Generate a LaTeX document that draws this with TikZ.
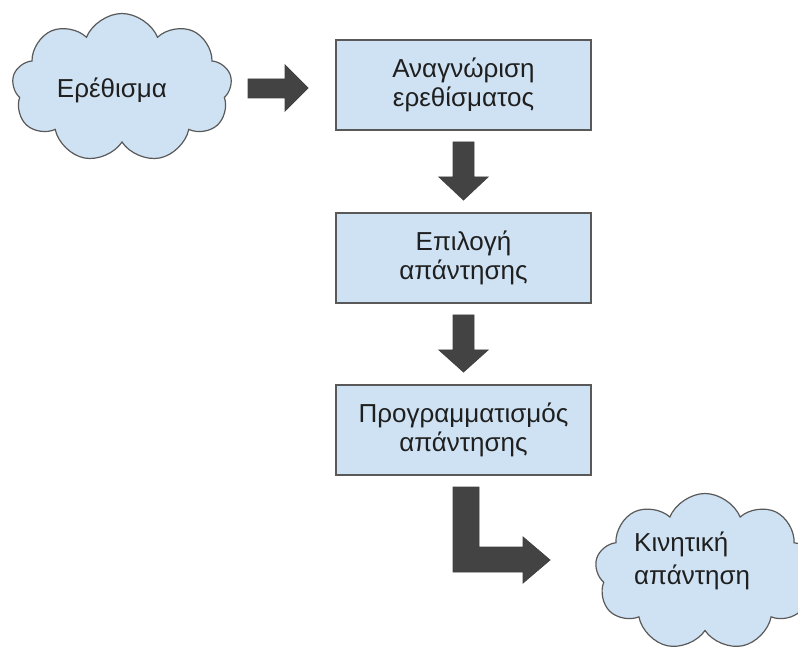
\documentclass[tikz,border=0pt]{standalone}
\usepackage{fontspec}
\setmainfont{Liberation Sans}
\usetikzlibrary{shapes.symbols}
\definecolor{fillblue}{HTML}{CFE2F3}
\definecolor{edgegray}{HTML}{595959}
\definecolor{arrowgray}{HTML}{434343}
\definecolor{textgray}{HTML}{1F1F1F}
\begin{document}
\begin{tikzpicture}[x=1pt,y=-1pt,
  stepbox/.style={draw=edgegray, line width=1.5pt, fill=fillblue, minimum width=255pt, minimum height=90pt, align=center, font=\fontsize{26}{29}\selectfont, text=textgray, inner sep=0pt},
  cloudnode/.style={cloud, cloud puffs=9, cloud puff arc=135, cloud ignores aspect, draw=edgegray, line width=1.2pt, fill=fillblue, inner sep=0pt},
  cloudtext/.style={font=\fontsize{26}{33}\selectfont, text=textgray, inner sep=0pt},
  blockarrow/.style={fill=arrowgray, draw=black!75, line width=0.8pt, line join=miter}]
\useasboundingbox (0,0) rectangle (798,652);
% clouds
\node[cloudnode, minimum width=220pt, minimum height=149pt, shape border rotate=10] (c1) at (122,88) {};
\node[cloudtext] (t1) at (112,90) {Ερέθισμα};
\node[cloudnode, minimum width=220pt, minimum height=157pt, shape border rotate=10] (c2) at (705,572) {};
\node[cloudtext, align=left, anchor=west] (t2) at (634,561) {Κινητική\\απάντηση};
% boxes
\node[stepbox] (b1) at (463.5,85) {Αναγνώριση\\ερεθίσματος};
\node[stepbox] (b2) at (463.5,258) {Επιλογή\\απάντησης};
\node[stepbox] (b3) at (463.5,430) {Προγραμματισμός\\απάντησης};
% block arrows
\draw[blockarrow] (248,79) -- (285,79) -- (285,65) -- (308,88) -- (285,111) -- (285,98) -- (248,98) -- cycle;
\draw[blockarrow] (453,142) -- (474,142) -- (474,177) -- (488,177) -- (463.5,200) -- (439,177) -- (453,177) -- cycle;
\draw[blockarrow] (453,315) -- (474,315) -- (474,350) -- (488,350) -- (463.5,372) -- (439,350) -- (453,350) -- cycle;
\draw[blockarrow] (453,487) -- (479,487) -- (479,547) -- (523,547) -- (523,537) -- (550,560) -- (523,583) -- (523,572) -- (453,572) -- cycle;
\end{tikzpicture}
\end{document}
